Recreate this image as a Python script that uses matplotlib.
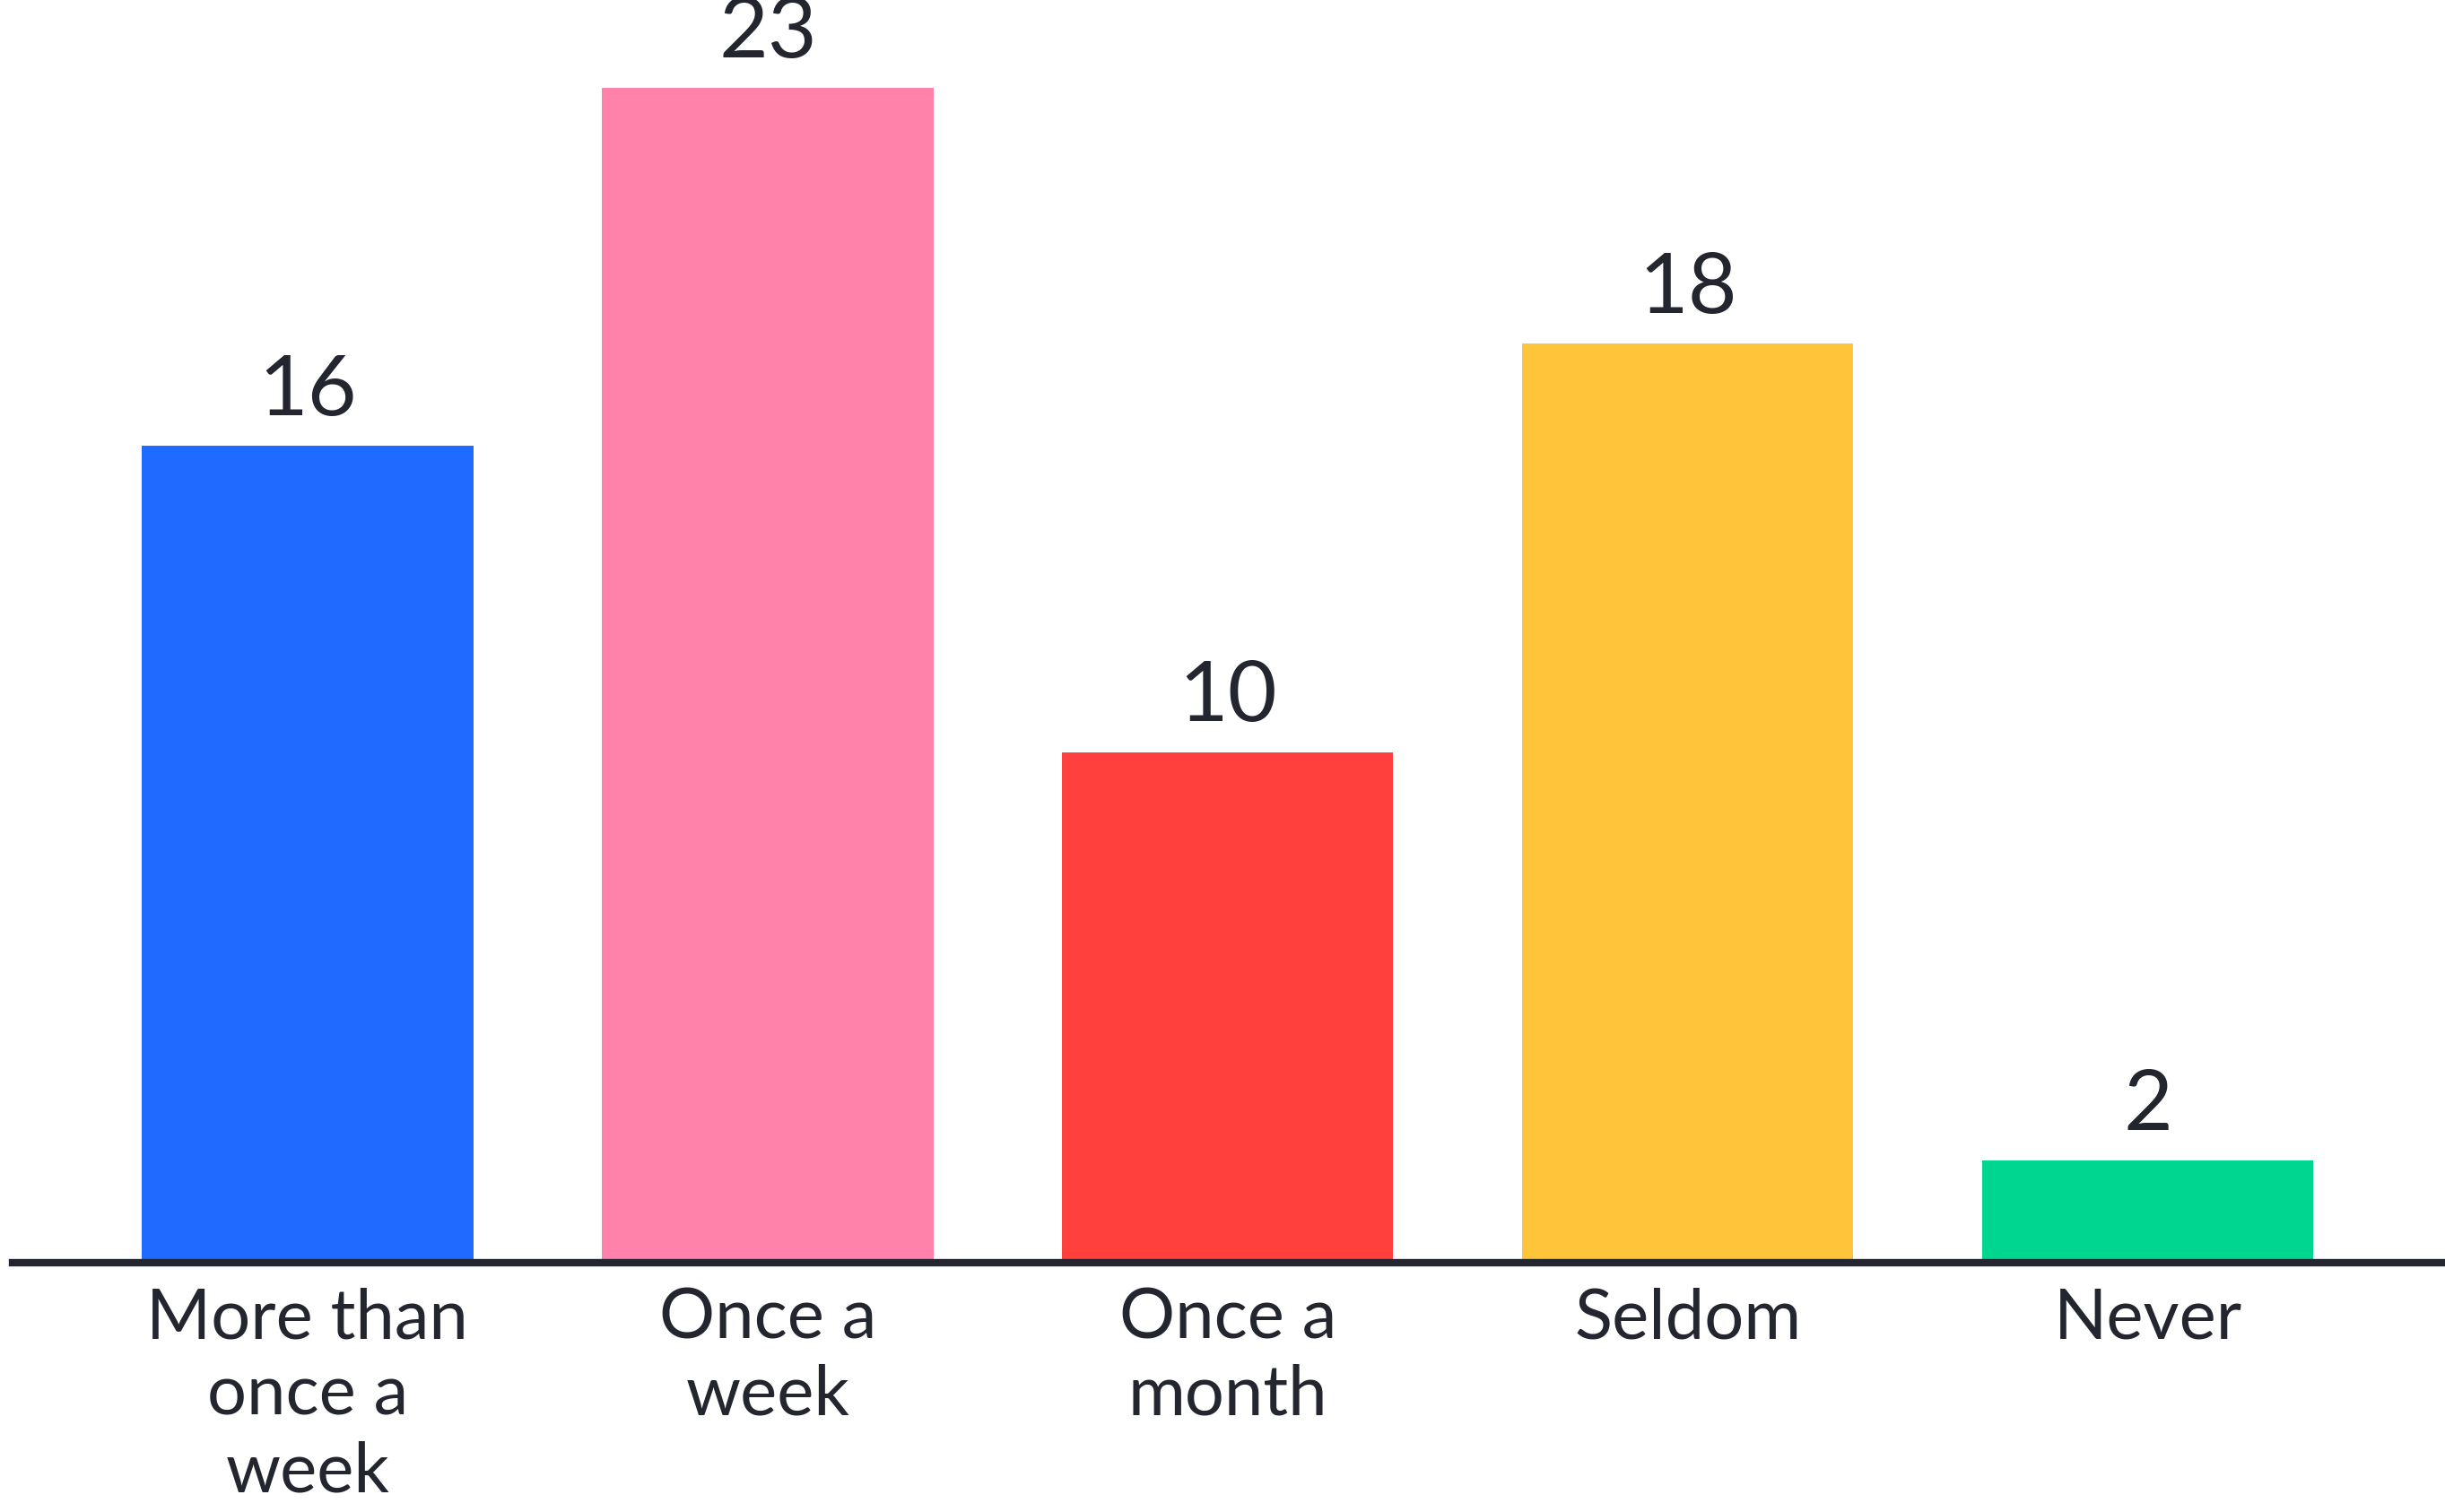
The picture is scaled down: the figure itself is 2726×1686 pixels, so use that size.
import matplotlib.pyplot as plt

categories = ["More than\nonce a\nweek", "Once a\nweek", "Once a\nmonth", "Seldom", "Never"]
counts = [16, 23, 10, 18, 2]
colors = ["#1f6bff", "#ff82ab", "#ff403d", "#ffc53a", "#00d68f"]

text_color = "#23262f"
plt.rcParams['font.family'] = ['Lato', 'DejaVu Sans']

fig = plt.figure(figsize=(27.26, 16.86), dpi=100)
ax = fig.add_axes([0.005, 0.165, 0.995, 0.835])

x = range(len(categories))
bars = ax.bar(x, counts, width=0.72, color=colors, zorder=2)

# value labels on top
for b, v in zip(bars, counts):
    ax.annotate(str(v), (b.get_x() + b.get_width() / 2, b.get_height()),
                xytext=(0, 13), textcoords="offset points",
                ha="center", va="bottom", fontsize=68, color=text_color)

ax.set_xlim(-0.642, 4.646)
ax.set_ylim(0, 24.73)
ax.set_xticks(list(x))
ax.set_xticklabels(categories, fontsize=56, color=text_color, linespacing=1.25, va="top")
ax.tick_params(axis="x", length=0, pad=20)
ax.set_yticks([])

for s in ["top", "right", "left"]:
    ax.spines[s].set_visible(False)
ax.spines["bottom"].set_color(text_color)
ax.spines["bottom"].set_linewidth(6)
ax.spines["bottom"].set_zorder(3)

fig.savefig("out.png", dpi=100)
